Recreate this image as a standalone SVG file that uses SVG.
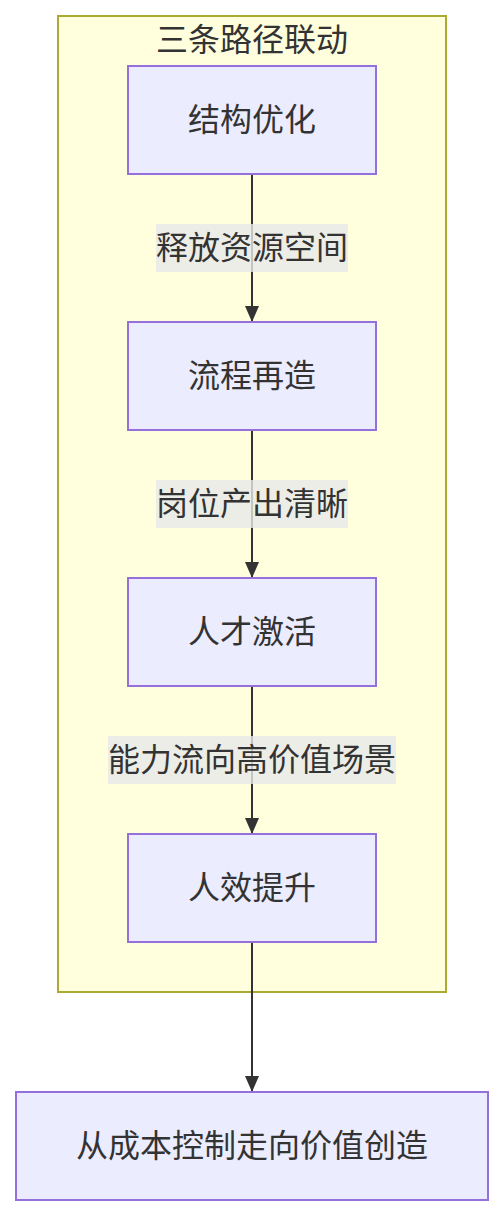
<svg xmlns="http://www.w3.org/2000/svg" width="504" height="1216" viewBox="0 0 504 1216">
<style>
text{font-family:"Liberation Sans","Noto Sans CJK SC",sans-serif;fill:#333;text-anchor:middle;dominant-baseline:central;font-size:32px}
.node rect{fill:#ECECFF;stroke:#9370DB;stroke-width:2}
.edge{stroke:#333;stroke-width:2;fill:none}
.lbl rect{fill:#e8e8e8;opacity:0.8}
</style>
<defs>
<marker id="arr" markerWidth="16" markerHeight="14" refX="16" refY="7" orient="auto" markerUnits="userSpaceOnUse">
<path d="M0,0 L16,7 L0,14 Z" fill="#333"/>
</marker>
</defs>
<rect width="504" height="1216" fill="#fff"/>
<g id="cluster">
<rect x="58" y="16" width="388" height="976" fill="#ffffde" stroke="#aaaa33" stroke-width="2"/>
<text x="252" y="40">三条路径联动</text>
</g>
<g id="connectors">
<path class="edge" d="M252,174 V322" marker-end="url(#arr)"/>
<path class="edge" d="M252,430 V578" marker-end="url(#arr)"/>
<path class="edge" d="M252,686 V834" marker-end="url(#arr)"/>
<path class="edge" d="M252,942 V1092" marker-end="url(#arr)"/>
<g class="lbl"><rect x="156" y="224" width="192" height="48"/><text x="252" y="248">释放资源空间</text></g>
<g class="lbl"><rect x="156" y="480" width="192" height="48"/><text x="252" y="504">岗位产出清晰</text></g>
<g class="lbl"><rect x="108" y="736" width="288" height="48"/><text x="252" y="760">能力流向高价值场景</text></g>
</g>
<g id="n1" class="node"><rect x="128" y="66" width="248" height="108"/><text x="252" y="120">结构优化</text></g>
<g id="n2" class="node"><rect x="128" y="322" width="248" height="108"/><text x="252" y="376">流程再造</text></g>
<g id="n3" class="node"><rect x="128" y="578" width="248" height="108"/><text x="252" y="632">人才激活</text></g>
<g id="n4" class="node"><rect x="128" y="834" width="248" height="108"/><text x="252" y="888">人效提升</text></g>
<g id="n5" class="node"><rect x="16" y="1092" width="472" height="108"/><text x="252" y="1146">从成本控制走向价值创造</text></g>
</svg>
